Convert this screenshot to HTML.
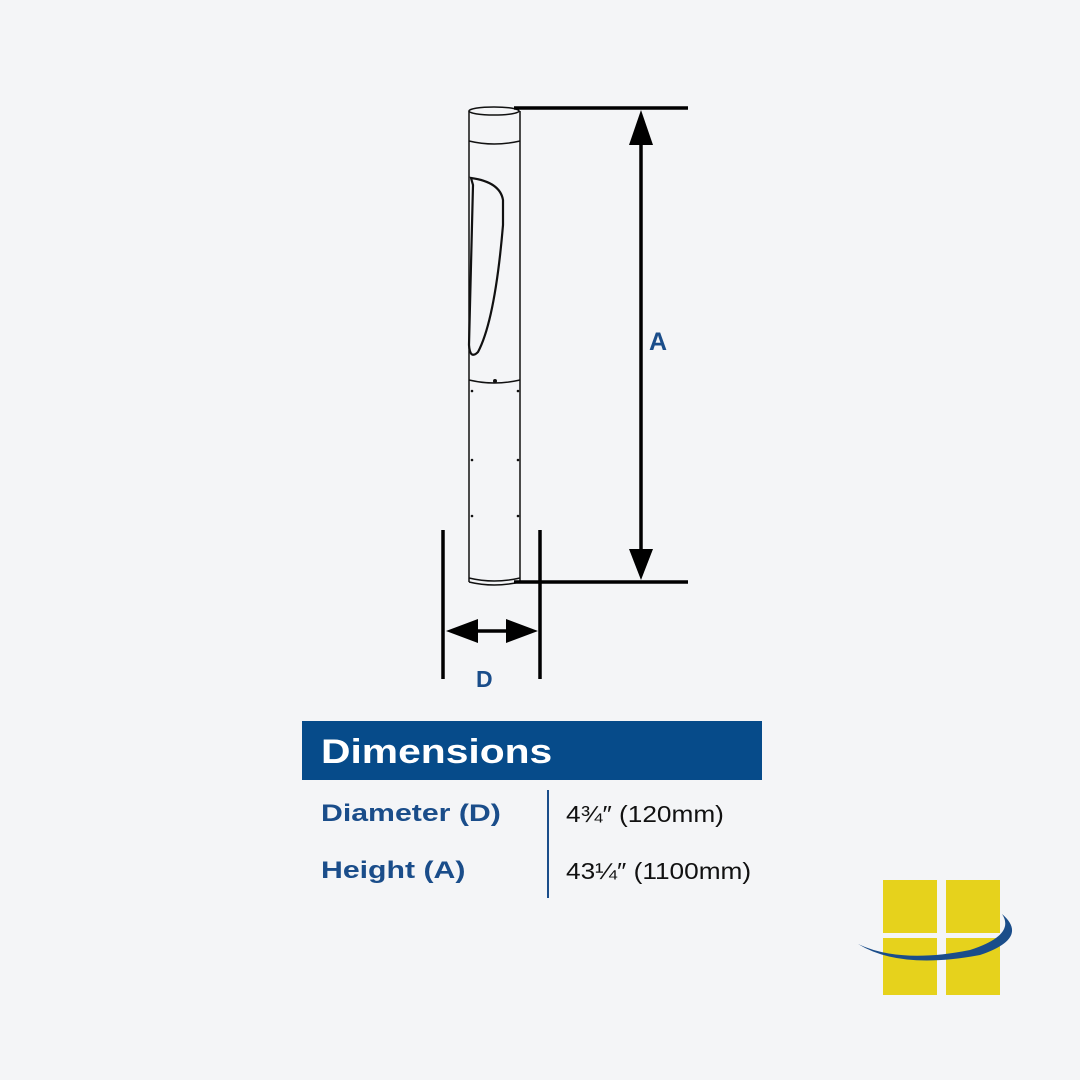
<!DOCTYPE html>
<html><head><style>
body{margin:0;width:1080px;height:1080px;background:#f4f5f7;position:relative;overflow:hidden;font-family:"Liberation Sans",sans-serif}
.t{position:absolute;font-weight:bold;color:#1a4d8a;transform-origin:0 0;white-space:nowrap}
</style></head><body>
<svg width="1080" height="1080" style="position:absolute;left:0;top:0">
<g fill="none" stroke="#111" stroke-width="1.5">
<ellipse cx="494" cy="111" rx="25" ry="4"/>
<line x1="469" y1="111" x2="469" y2="582"/>
<line x1="520" y1="111" x2="520" y2="582"/>
<path d="M469 141 Q494 147 520 141"/>
<path d="M469 380 Q494 386 520 380"/>
<path d="M469 578 Q494 584 520 578"/>
<path d="M469 582 Q494 588 520 582"/>
<path d="M471 178 Q500 182 503 200 L503 225 Q495 320 478 352 Q470 360 469 345 L473 185 Z" stroke-width="2.2"/>
</g>
<g fill="#111">
<circle cx="495" cy="381" r="2"/><circle cx="472" cy="391" r="1.3"/><circle cx="518" cy="391" r="1.3"/>
<circle cx="472" cy="460" r="1.3"/><circle cx="518" cy="460" r="1.3"/>
<circle cx="472" cy="516" r="1.3"/><circle cx="518" cy="516" r="1.3"/>
</g>
<g stroke="#000" stroke-width="3.5">
<line x1="514" y1="108" x2="688" y2="108"/>
<line x1="514" y1="582" x2="688" y2="582"/>
<line x1="641" y1="140" x2="641" y2="552"/>
<line x1="443" y1="530" x2="443" y2="679"/>
<line x1="540" y1="530" x2="540" y2="679"/>
<line x1="470" y1="631" x2="513" y2="631"/>
</g>
<g fill="#000">
<polygon points="641,110 629,145 653,145"/>
<polygon points="641,580 629,549 653,549"/>
<polygon points="446,631 478,619 478,643"/>
<polygon points="538,631 506,619 506,643"/>
</g>
<rect x="302" y="721" width="460" height="59" fill="#064b8a"/>
<line x1="548" y1="790" x2="548" y2="898" stroke="#1a4d8a" stroke-width="2"/>
<g fill="#e6d21c">
<rect x="883" y="880" width="54" height="53"/><rect x="946" y="880" width="54" height="53"/>
<rect x="883" y="938" width="54" height="57"/><rect x="946" y="938" width="54" height="57"/>
</g>
<path d="M858 944 Q900 970 980 955 Q1030 938 1002 914 Q1016 935 970 950 Q900 964 858 944 Z" fill="#1a4d8a"/>
</svg>
<div class="t" style="left:649px;top:328px;font-size:25px">A</div>
<div class="t" style="left:476px;top:666px;font-size:23px">D</div>
<div class="t" style="left:321px;top:733px;font-size:34px;color:#fff;transform:scaleX(1.2)">Dimensions</div>
<div class="t" style="left:321px;top:800px;font-size:24px;transform:scaleX(1.26)">Diameter (D)</div>
<div class="t" style="left:321px;top:857px;font-size:24px;transform:scaleX(1.26)">Height (A)</div>
<div class="t" style="left:566px;top:801px;font-size:23px;color:#111;font-weight:normal;transform:scaleX(1.14)">4¾″ (120mm)</div>
<div class="t" style="left:566px;top:858px;font-size:23px;color:#111;font-weight:normal;transform:scaleX(1.14)">43¼″ (1100mm)</div>
</body></html>
